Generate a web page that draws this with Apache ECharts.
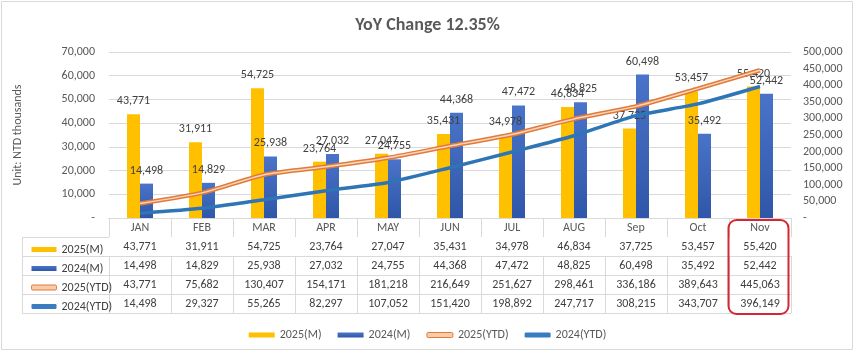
<!DOCTYPE html>
<html>
<head>
<meta charset="utf-8">
<script src="https://cdn.jsdelivr.net/npm/echarts@6/dist/echarts.min.js"></script>
<style>
    html, body { margin: 0; padding: 0; background: #fff; }
    #main { width: 855px; height: 352px; }
</style>
</head>
<body>
<div id="main"></div>
<script>
var months = ['JAN', 'FEB', 'MAR', 'APR', 'MAY', 'JUN', 'JUL', 'AUG', 'Sep', 'Oct', 'Nov']
var m2025 = [43771, 31911, 54725, 23764, 27047, 35431, 34978, 46834, 37725, 53457, 55420]
var m2024 = [14498, 14829, 25938, 27032, 24755, 44368, 47472, 48825, 60498, 35492, 52442]
var ytd2025 = [43771, 75682, 130407, 154171, 181218, 216649, 251627, 298461, 336186, 389643, 445063]
var ytd2024 = [14498, 29327, 55265, 82297, 107052, 151420, 198892, 247717, 308215, 343707, 396149]
var seriesNames = ['2025(M)', '2024(M)', '2025(YTD)', '2024(YTD)']
var titleText = 'YoY Change 12.35%'
var leftAxisName = 'Unit: NTD thousands'

var FONT = 'Carlito, Lato, sans-serif'
var rowH = 19
var gridLeft = 109, gridRight = 64, gridTop = 52, gridBottom = 134
var lineColor = '#d9d9d9'

function fmt(v) {
    return v === 0 ? '-' : Number(v).toLocaleString('en-US')
}

// each table row is an extra category axis stacked under the plot
function tableAxis(data, k, withLabels) {
    return {
        type: 'category',
        gridIndex: 0,
        position: 'bottom',
        offset: k * rowH,
        data: data,
        axisLine: {show: true, lineStyle: {color: lineColor}},
        axisTick: {show: withLabels, length: rowH, interval: 0, lineStyle: {color: lineColor}},
        axisLabel: {show: withLabels, interval: 0, margin: 4, color: '#404040', fontSize: 12, fontFamily: FONT},
        splitLine: {show: false}
    }
}

var xAxes = [
    tableAxis(months, 0, true),
    tableAxis(m2025.map(fmt), 1, true),
    tableAxis(m2024.map(fmt), 2, true),
    tableAxis(ytd2025.map(fmt), 3, true),
    tableAxis(ytd2024.map(fmt), 4, true),
    tableAxis(months, 5, false)
]
xAxes[0].axisLabel.color = '#595959'

var barLabel = {
    show: true,
    position: 'top',
    distance: 7,
    color: '#404040',
    fontSize: 12,
    fontFamily: FONT,
    formatter: function (p) { return fmt(p.value) }
}

var legendData = [
    {name: seriesNames[0], icon: 'rect'},
    {name: seriesNames[1], icon: 'rect'},
    {name: seriesNames[2], icon: 'roundRect', itemStyle: {color: '#F8CBAD', borderColor: '#E07B39', borderWidth: 1}},
    {name: seriesNames[3], icon: 'roundRect', itemStyle: {color: '#3A7CC0', borderWidth: 0}}
]

// key column borders of the data table
var keyLeft = 22
var tableTop = 352 - gridBottom
var keyLines = []
for (var r = 1; r <= 5; r++) {
    keyLines.push({
        type: 'line', silent: true,
        shape: {x1: keyLeft, y1: tableTop + r * rowH + 0.5, x2: gridLeft, y2: tableTop + r * rowH + 0.5},
        style: {stroke: lineColor, lineWidth: 1}
    })
}
keyLines.push({
    type: 'line', silent: true,
    shape: {x1: keyLeft + 0.5, y1: tableTop + rowH, x2: keyLeft + 0.5, y2: tableTop + 5 * rowH + 0.5},
    style: {stroke: lineColor, lineWidth: 1}
})

var option = {
    animation: false,
    backgroundColor: '#fff',
    title: {
        text: titleText,
        left: 'center',
        top: 11,
        textStyle: {fontSize: 18, fontWeight: 'bold', color: '#595959', fontFamily: FONT}
    },
    legend: [{
        data: legendData,
        orient: 'horizontal',
        left: 'center',
        top: 324,
        itemWidth: 26,
        itemHeight: 5,
        itemGap: 16,
        selectedMode: false,
        textStyle: {color: '#595959', fontSize: 12, fontFamily: FONT}
    }, {
        data: legendData,
        orient: 'vertical',
        left: 26,
        top: tableTop + rowH - 2,
        itemWidth: 25,
        itemHeight: 5,
        itemGap: 0,
        selectedMode: false,
        textStyle: {color: '#404040', fontSize: 12, fontFamily: FONT, lineHeight: rowH}
    }],
    grid: {left: gridLeft, right: gridRight, top: gridTop, bottom: gridBottom},
    xAxis: xAxes,
    yAxis: [{
        type: 'value',
        min: 0, max: 70000, interval: 10000,
        name: leftAxisName,
        nameLocation: 'middle',
        nameGap: 85,
        nameRotate: 90,
        nameTextStyle: {color: '#595959', fontSize: 12, fontFamily: FONT},
        axisLine: {show: false},
        axisTick: {show: false},
        axisLabel: {margin: 14, color: '#595959', fontSize: 12, fontFamily: FONT, formatter: fmt},
        splitLine: {lineStyle: {color: lineColor}}
    }, {
        type: 'value',
        min: 0, max: 500000, interval: 50000,
        position: 'right',
        axisLine: {show: false},
        axisTick: {show: false},
        axisLabel: {margin: 12, color: '#595959', fontSize: 12, fontFamily: FONT, formatter: fmt},
        splitLine: {show: false}
    }],
    series: [{
        name: seriesNames[0],
        type: 'bar',
        data: m2025,
        barWidth: 13,
        barGap: '0%',
        itemStyle: {color: '#FFC000'},
        label: barLabel,
        z: 2
    }, {
        name: seriesNames[1],
        type: 'bar',
        data: m2024,
        barWidth: 13,
        barGap: '0%',
        itemStyle: {
            color: new echarts.graphic.LinearGradient(0, 0, 0, 1, [
                {offset: 0, color: '#4A74C9'},
                {offset: 1, color: '#2F56A8'}
            ])
        },
        label: barLabel,
        z: 2
    }, {
        name: seriesNames[2],
        type: 'line',
        yAxisIndex: 1,
        data: ytd2025,
        smooth: 0.2,
        symbol: 'none',
        lineStyle: {width: 4.5, color: '#E07B39'},
        itemStyle: {color: '#E07B39'},
        z: 3
    }, {
        // light core of the double line
        name: seriesNames[2],
        type: 'line',
        yAxisIndex: 1,
        data: ytd2025,
        smooth: 0.2,
        symbol: 'none',
        lineStyle: {width: 1.5, color: '#FBD5BC'},
        itemStyle: {color: '#F8CBAD'},
        z: 4
    }, {
        name: seriesNames[3],
        type: 'line',
        yAxisIndex: 1,
        data: ytd2024,
        smooth: 0.2,
        symbol: 'none',
        lineStyle: {width: 3.5, color: '#2E75B6'},
        itemStyle: {color: '#2E75B6'},
        z: 3
    }],
    graphic: [{
        type: 'rect', silent: true,
        shape: {x: 1.5, y: 1.5, width: 851, height: 348},
        style: {fill: null, stroke: '#d9d9d9', lineWidth: 1}
    }].concat(keyLines)
}

var chart = echarts.init(document.getElementById('main'))
chart.setOption(option)

// red highlight round the last month column
var last = months[months.length - 1]
var cx = chart.convertToPixel({xAxisIndex: 0}, last)
var step = chart.convertToPixel({xAxisIndex: 0}, months[1]) - chart.convertToPixel({xAxisIndex: 0}, months[0])
option.graphic.push({
    type: 'rect', silent: true, z: 100,
    shape: {x: cx - step / 2 - 0.5, y: tableTop + 2, width: step - 2, height: 5 * rowH - 1, r: 8},
    style: {fill: null, stroke: '#D62631', lineWidth: 2}
})
chart.setOption({graphic: option.graphic})
</script>
</body>
</html>
